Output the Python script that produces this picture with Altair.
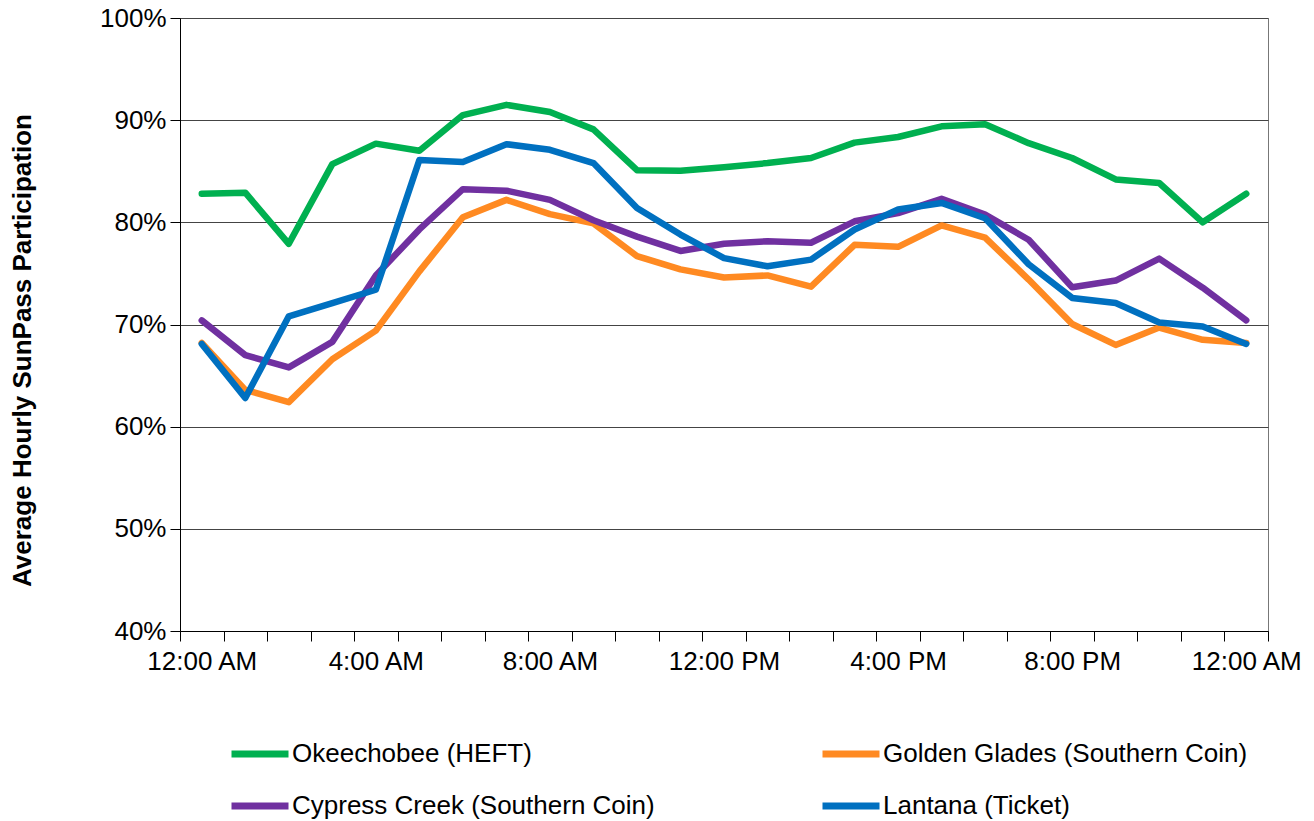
import altair as alt
import pandas as pd

hours = list(range(25))
tick_labels = {0: "12:00 AM", 4: "4:00 AM", 8: "8:00 AM", 12: "12:00 PM",
               16: "4:00 PM", 20: "8:00 PM", 24: "12:00 AM"}

series_names = [
    "Okeechobee (HEFT)",
    "Golden Glades (Southern Coin)",
    "Cypress Creek (Southern Coin)",
    "Lantana (Ticket)",
]
series_colors = ["#00B050", "#FF8A22", "#7030A0", "#0070C0"]
# legend is filled column by column: put entries so rows read as in the reference
legend_order = [0, 2, 1, 3]

okeechobee = [82.8, 82.9, 77.9, 85.7, 87.7, 87.0, 90.5, 91.5, 90.8, 89.1, 85.1, 85.05,
              85.4, 85.8, 86.3, 87.8, 88.35, 89.4, 89.6, 87.75, 86.3, 84.2, 83.85, 80.0, 82.8]
golden_glades = [68.2, 63.6, 62.4, 66.6, 69.4, 75.2, 80.5, 82.2, 80.8, 79.9, 76.7, 75.4,
                 74.6, 74.8, 73.7, 77.8, 77.6, 79.7, 78.5, 74.4, 70.05, 68.0, 69.7, 68.5, 68.2]
cypress_creek = [70.4, 67.0, 65.8, 68.3, 74.8, 79.3, 83.25, 83.1, 82.2, 80.2, 78.6, 77.2,
                 77.9, 78.15, 78.0, 80.1, 80.9, 82.3, 80.75, 78.3, 73.65, 74.3, 76.45, 73.6, 70.4]
lantana = [68.1, 62.8, 70.8, 72.1, 73.4, 86.1, 85.9, 87.65, 87.1, 85.8, 81.4, 78.8,
           76.5, 75.7, 76.35, 79.3, 81.25, 81.9, 80.4, 75.9, 72.6, 72.1, 70.2, 69.8, 68.1]

all_values = [okeechobee, golden_glades, cypress_creek, lantana]
rows = []
for name, vals in zip(series_names, all_values):
    for h, v in zip(hours, vals):
        rows.append({"hour": h, "value": v, "series": name})
df = pd.DataFrame(rows)

label_expr = "''"
for k in sorted(tick_labels.keys(), reverse=True):
    label_expr = f"datum.value === {k} ? '{tick_labels[k]}' : ({label_expr})"

x_values = []
for h in hours:
    x_values.extend([h - 0.5, h])
x_values.append(24.5)

FONT = "Liberation Sans"

dom = [series_names[i] for i in legend_order]
rng = [series_colors[i] for i in legend_order]

chart = alt.Chart(df).mark_line(strokeWidth=6.5, strokeCap="round", strokeJoin="round").encode(
    x=alt.X("hour:Q",
            scale=alt.Scale(domain=[-0.5, 24.5], nice=False, zero=False),
            axis=alt.Axis(values=x_values, labelExpr=label_expr, title=None, grid=False,
                          tickSize=10, tickColor="#000", domainColor="#000",
                          tickOpacity={"condition": {"test": "datum.value % 1 === 0", "value": 0}, "value": 1},
                          labelFont=FONT, labelFontSize=26, labelColor="#000",
                          labelPadding=7, labelFlush=False, labelOverlap=False)),
    y=alt.Y("value:Q",
            scale=alt.Scale(domain=[40, 100], nice=False, zero=False),
            axis=alt.Axis(values=[40, 50, 60, 70, 80, 90, 100], labelExpr="datum.value + '%'",
                          title="Average Hourly SunPass Participation",
                          titleFont=FONT, titleFontSize=26, titleFontWeight="bold", titleColor="#000",
                          titleAngle=270, titleX=-158, titleY=332, titleAlign="center",
                          titleBaseline="middle",
                          grid=True, gridColor="#444", gridWidth=1,
                          tickSize=10, tickColor="#000", domainColor="#000",
                          labelFont=FONT, labelFontSize=26, labelColor="#000", labelPadding=4)),
    color=alt.Color("series:N",
                    scale=alt.Scale(domain=dom, range=rng),
                    legend=alt.Legend(title=None, orient="none", legendX=48, legendY=704,
                                      columns=2, columnPadding=153, rowPadding=6,
                                      symbolType="M-1,0H1", symbolSize=3249, symbolStrokeWidth=7,
                                      labelFont=FONT, labelFontSize=26, labelColor="#000",
                                      labelOffset=0, labelLimit=600)),
).properties(
    width=1088, height=613,
    autosize=alt.AutoSizeParams(type="none"),
    padding={"left": 172, "top": 10, "right": 38, "bottom": 190},
).configure_view(stroke="#777", strokeWidth=1)

chart.save("out.html", embed_options={"renderer": "svg", "actions": False})
